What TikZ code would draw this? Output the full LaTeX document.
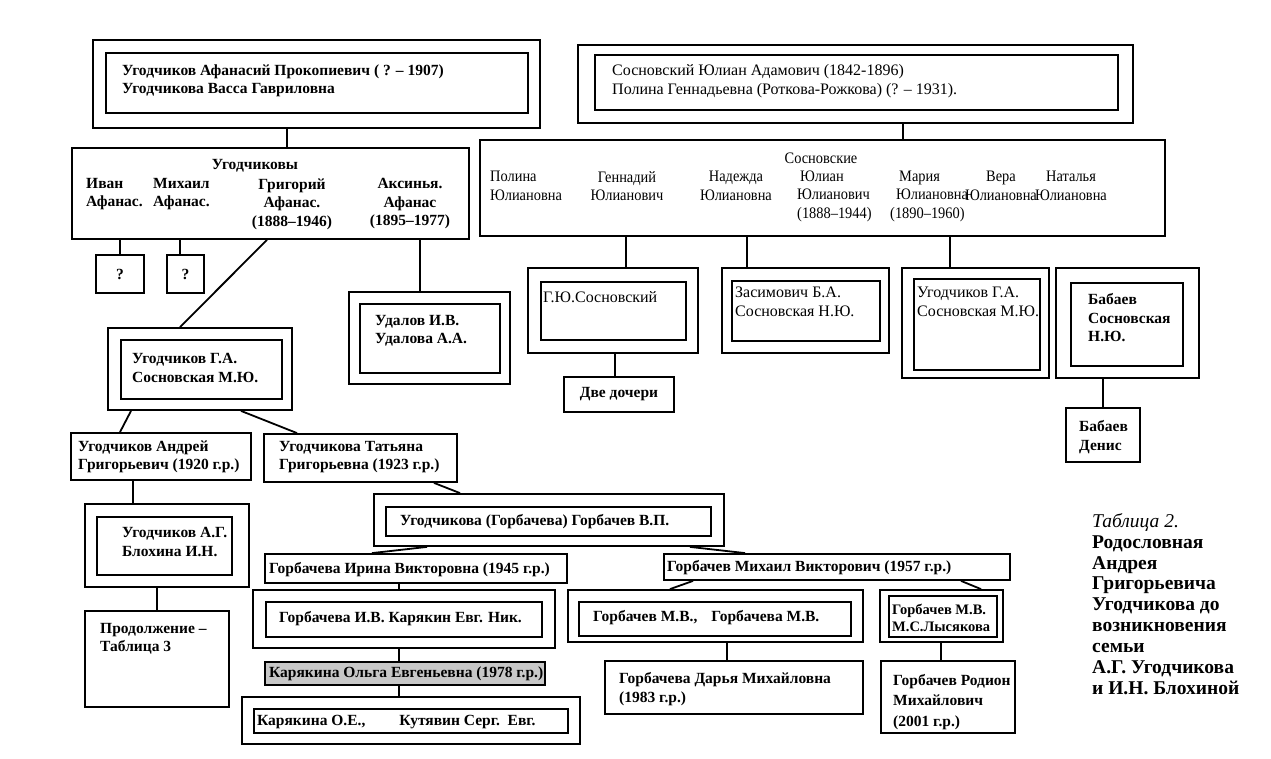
\documentclass[tikz,border=0pt]{standalone}
\usepackage{fontspec}
\setmainfont{Liberation Serif}
\newfontfamily\condserif[FakeStretch=0.9]{Liberation Serif}
\usetikzlibrary{fit}
\newcommand\mkbox[6][]{\node[bx,#1,fit={(#3,#4)(#5,#6)}] (#2) {};}
\begin{document}
\begin{tikzpicture}[x=1pt,y=-1pt,
  bx/.style={draw,line width=1.8pt,inner sep=0pt},
  ln/.style={line width=1.8pt},
  tx/.style={inner sep=0pt,anchor=west,align=left,font=\fontsize{16}{18.5}\selectfont},
  txb/.style={tx,font=\fontsize{15.5}{18.5}\selectfont\bfseries},
  txs/.style={tx,font=\condserif\fontsize{16}{18.5}\selectfont},
  txc/.style={tx,anchor=center,align=center},
  txbc/.style={txb,anchor=center,align=center}]
\fill[white] (0,0) rectangle (1271,759);
\useasboundingbox (0,0) rectangle (1271,759);
% boxes
\mkbox{tlo}{93}{40}{540}{128}
\mkbox{tli}{106}{53}{528}{113}
\mkbox{tro}{578}{45}{1133}{123}
\mkbox{tri}{595}{55}{1118}{110}
\mkbox{ugb}{72}{148}{469}{239}
\mkbox{sob}{480}{140}{1165}{236}
\mkbox{qa}{96}{255}{144}{293}
\mkbox{qb}{167}{255}{204}{293}
\mkbox{gao}{108}{328}{292}{410}
\mkbox{gai}{121}{340}{282}{399}
\mkbox{udo}{349}{292}{510}{384}
\mkbox{udi}{360}{304}{500}{373}
\mkbox{gyo}{528}{268}{698}{353}
\mkbox{gyi}{541}{282}{686}{340}
\mkbox{dd}{564}{377}{674}{412}
\mkbox{zso}{722}{268}{889}{353}
\mkbox{zsi}{732}{281}{880}{341}
\mkbox{ugro}{902}{268}{1049}{378}
\mkbox{ugri}{914}{279}{1040}{370}
\mkbox{bbo}{1056}{268}{1199}{378}
\mkbox{bbi}{1071}{283}{1183}{366}
\mkbox{bbd}{1066}{408}{1140}{462}
\mkbox{and}{71}{433}{251}{480}
\mkbox{tat}{264}{434}{457}{482}
\mkbox{blo}{85}{504}{249}{587}
\mkbox{bli}{97}{517}{232}{575}
\mkbox{prd}{85}{611}{229}{707}
\mkbox{gvo}{374}{494}{724}{546}
\mkbox{gvi}{386}{507}{711}{536}
\mkbox{iri}{265}{554}{567}{583}
\mkbox{mih}{664}{554}{1010}{580}
\mkbox{ivo}{253}{590}{555}{648}
\mkbox{ivi}{266}{602}{542}{637}
\mkbox[fill=black!22,line width=2.2pt]{olg}{265}{662}{545}{685}
\mkbox{oeo}{242}{697}{580}{744}
\mkbox{oei}{254}{709}{568}{733}
\mkbox{mvo}{568}{590}{863}{642}
\mkbox{mvi}{579}{602}{851}{636}
\mkbox{lso}{880}{590}{1003}{642}
\mkbox{lsi}{889}{596}{997}{637}
\mkbox{dar}{605}{661}{863}{714}
\mkbox{rod}{881}{661}{1015}{733}
% connectors
\draw[ln] (287,0 |- tlo.south) -- (287,0 |- ugb.north);
\draw[ln] (903,0 |- tro.south) -- (903,0 |- sob.north);
\draw[ln] (120,0 |- ugb.south) -- (120,0 |- qa.north);
\draw[ln] (180,0 |- ugb.south) -- (180,0 |- qb.north);
\draw[ln] (267,0 |- ugb.south) -- (180,0 |- gao.north);
\draw[ln] (420,0 |- ugb.south) -- (420,0 |- udo.north);
\draw[ln] (626,0 |- sob.south) -- (626,0 |- gyo.north);
\draw[ln] (747,0 |- sob.south) -- (747,0 |- zso.north);
\draw[ln] (950,0 |- sob.south) -- (950,0 |- ugro.north);
\draw[ln] (615,0 |- gyo.south) -- (615,0 |- dd.north);
\draw[ln] (1103,0 |- bbo.south) -- (1103,0 |- bbd.north);
\draw[ln] (131,0 |- gao.south) -- (120,0 |- and.north);
\draw[ln] (241,0 |- gao.south) -- (297,0 |- tat.north);
\draw[ln] (133,0 |- and.south) -- (133,0 |- blo.north);
\draw[ln] (157,0 |- blo.south) -- (157,0 |- prd.north);
\draw[ln] (434,0 |- tat.south) -- (460,0 |- gvo.north);
\draw[ln] (427,0 |- gvo.south) -- (372,0 |- iri.north);
\draw[ln] (690,0 |- gvo.south) -- (745,0 |- mih.north);
\draw[ln] (399,0 |- iri.south) -- (399,0 |- ivo.north);
\draw[ln] (399,0 |- ivo.south) -- (399,0 |- olg.north);
\draw[ln] (399,0 |- olg.south) -- (399,0 |- oeo.north);
\draw[ln] (693,0 |- mih.south) -- (670,0 |- mvo.north);
\draw[ln] (961,0 |- mih.south) -- (981,0 |- lso.north);
\draw[ln] (727,0 |- mvo.south) -- (727,0 |- dar.north);
\draw[ln] (941,0 |- lso.south) -- (941,0 |- rod.north);
% texts
\node[txb] (t1) at (122,81) {Угодчиков Афанасий Прокопиевич ( ? – 1907)\\Угодчикова Васса Гавриловна};
\node[tx] (t2) at (612,81) {Сосновский Юлиан Адамович (1842-1896)\\Полина Геннадьевна (Роткова-Рожкова) (? – 1931).};
\node[txbc] (t3) at (255,166) {Угодчиковы};
\node[txb] (t4) at (86,194) {Иван\\Афанас.};
\node[txb] (t5) at (153,194) {Михаил\\Афанас.};
\node[txbc] (t6) at (292,204) {Григорий\\Афанас.\\(1888–1946)};
\node[txbc] (t7) at (410,204) {Аксинья.\\Афанас\\(1895–1977)};
\node[txbc] (t8) at (qa) {?};
\node[txbc] (t9) at (qb) {?};
\node[txb] (t10) at (132,368) {Угодчиков Г.А.\\Сосновская М.Ю.};
\node[txb] (t11) at (375,331) {Удалов И.В.\\Удалова А.А.};
\node[txs,anchor=center] (t12) at (821,158) {Сосновские};
\node[txs] (t13) at (490,186) {Полина\\Юлиановна};
\node[txs,anchor=center,align=center] (t14) at (627,186) {Геннадий\\Юлианович};
\node[txs,anchor=center,align=center] (t15) at (736,186) {Надежда\\Юлиановна};
\node[txs] (t16) at (797,196) {\hspace{3pt}Юлиан\\Юлианович\\(1888–1944)};
\node[txs] (t17) at (890,196) {\hspace{9pt}Мария\\\hspace{6pt}Юлиановна\\(1890–1960)};
\node[txs,anchor=center,align=center] (t18) at (1001,186) {Вера\\Юлиановна};
\node[txs,anchor=center,align=center] (t19) at (1071,186) {Наталья\\Юлиановна};
\node[tx] (t20) at (543,297) {Г.Ю.Сосновский};
\node[txbc] (t21) at (dd) {Две дочери};
\node[tx] (t22) at (735,302) {Засимович Б.А.\\Сосновская Н.Ю.};
\node[tx] (t23) at (917,302) {Угодчиков Г.А.\\Сосновская М.Ю.};
\node[txb] (t24) at (1088,318) {Бабаев\\Сосновская\\Н.Ю.};
\node[txb] (t25) at (1079,437) {Бабаев\\Денис};
\node[txb] (t26) at (78,457) {Угодчиков Андрей\\Григорьевич (1920 г.р.)};
\node[txb] (t27) at (279,457) {Угодчикова Татьяна\\Григорьевна (1923 г.р.)};
\node[txb] (t28) at (122,542) {Угодчиков А.Г.\\Блохина И.Н.};
\node[txb] (t29) at (100,639) {Продолжение –\\Таблица 3};
\node[txb] (t30) at (400,522) {Угодчикова (Горбачева) Горбачев В.П.};
\node[txb] (t31) at (269,570) {Горбачева Ирина Викторовна (1945 г.р.)};
\node[txb] (t32) at (667,568) {Горбачев Михаил Викторович (1957 г.р.)};
\node[txb] (t33) at (279,619) {Горбачева И.В. Карякин Евг. Ник.};
\node[txb] (t34) at (593,618) {Горбачев М.В.,\hspace{10pt} Горбачева М.В.};
\node[txb,font=\fontsize{14.5}{17.5}\selectfont\bfseries] (t35) at (892,618) {Горбачев М.В.\\М.С.Лысякова};
\node[txb] (t36) at (269,674) {Карякина Ольга Евгеньевна (1978 г.р.)};
\node[txb] (t37) at (257,722) {Карякина О.Е.,\hspace{34pt}Кутявин Серг.\ \ Евг.};
\node[txb] (t38) at (619,689) {Горбачева Дарья Михайловна\\(1983 г.р.)};
\node[txb,font=\fontsize{15.5}{20.5}\selectfont\bfseries] (t39) at (893,702) {Горбачев Родион\\Михайлович\\(2001 г.р.)};
\node[inner sep=0pt,anchor=west,align=left,font=\fontsize{19.5}{20.9}\selectfont\bfseries] (ttl) at (1092,604)
  {\textit{\mdseries Таблица 2.}\\Родословная\\Андрея\\Григорьевича\\Угодчикова до\\возникновения\\семьи\\А.Г. Угодчикова\\и И.Н. Блохиной};
\end{tikzpicture}
\end{document}
